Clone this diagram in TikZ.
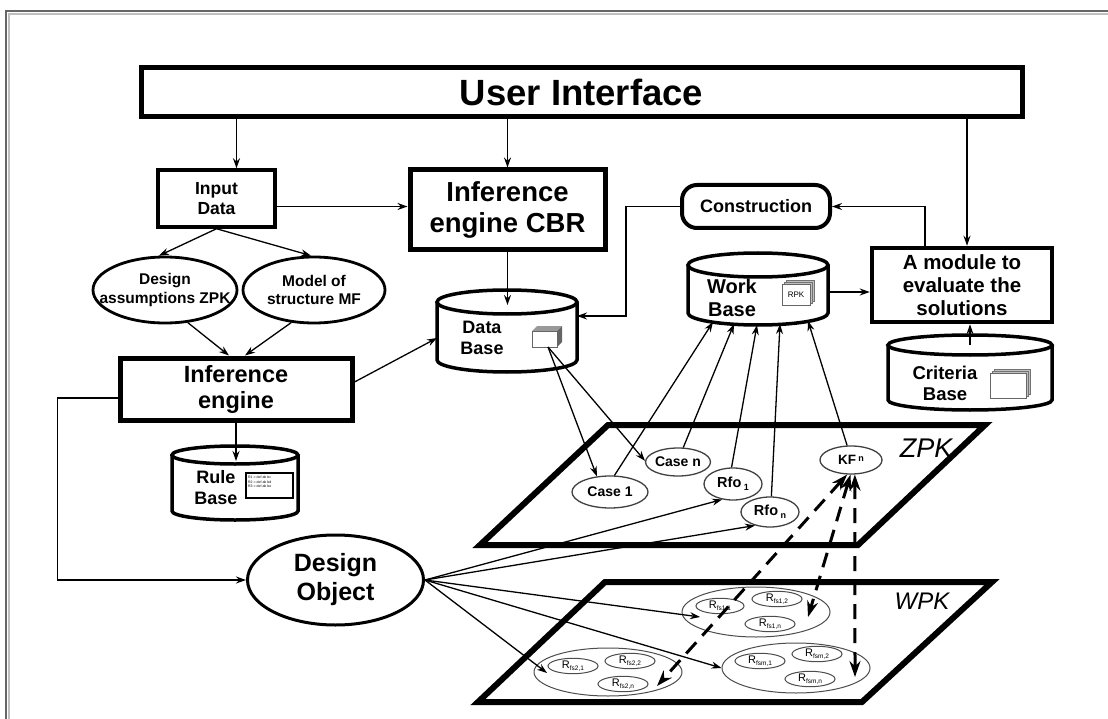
\documentclass[tikz,border=0pt]{standalone}
\usepackage{fontspec}
\setmainfont{Liberation Sans}
\usetikzlibrary{arrows.meta,shapes.geometric,calc}

% database drum: name, left x, right x, top-ellipse y, bottom-ellipse y, y radius
\newcommand\dbdrum[6]{%
  \coordinate (#1-top) at ({(#2+#3)/2},#4);
  \draw[drum] (#2,#4) -- (#2,#5)
    arc[start angle=180,end angle=0,x radius={(#3-#2)/2},y radius=#6] -- (#3,#4);
  \draw[drum] (#1-top) ellipse[x radius={(#3-#2)/2},y radius=#6];
}
% small relation label R with a lowered index
\newcommand\rsub[1]{{\mdseries\fontsize{11}{11}\selectfont R\raisebox{-2.5pt}{\fontsize{6.5}{6.5}\selectfont #1}}}

\begin{document}
\begin{tikzpicture}[x=1pt,y=-1pt,
  every node/.style={font=\bfseries, align=center, inner sep=0pt},
  thickbox/.style={draw, line width=5pt},
  arr/.style={line width=1.3pt, -{Stealth[length=10pt,width=7pt]}},
  drum/.style={line width=3.5pt},
  oval/.style={ellipse, draw, line width=2.8pt},
  item/.style={ellipse, draw=black!75, line width=1.3pt},
  subrel/.style={ellipse, draw=black!70, line width=1pt},
  plane/.style={line width=6pt, line join=miter},
  dasharr/.style={line width=3pt, dash pattern=on 15pt off 9pt,
    {Stealth[length=16pt,width=11pt]}-{Stealth[length=16pt,width=11pt]}},
]
\useasboundingbox (0,0) rectangle (1108,719);

% page edge
\draw[black!25, line width=1.5pt] (9,719) -- (9,14) -- (1108,14);
\draw[black!60, line width=2.2pt] (6,719) -- (6,11) -- (1108,11);

% ---- top row
\node[thickbox, minimum width=881, minimum height=49,
      font=\bfseries\fontsize{36.5}{40}\selectfont] (ui) at (581.5,92.5) {User Interface};
\node[draw, line width=3.5pt, minimum width=117, minimum height=57,
      font=\bfseries\fontsize{17.5}{20}\selectfont] (in) at (216.5,198.5) {Input\\Data};
\node[thickbox, minimum width=195, minimum height=80,
      font=\bfseries\fontsize{27.5}{31}\selectfont] (cbr) at (507.5,210) {Inference\\engine CBR};
\node[draw, rounded corners=15pt, line width=4pt, minimum width=148, minimum height=43,
      font=\bfseries\fontsize{18}{20}\selectfont] (con) at (756,206.5) {Construction};
\node[draw, line width=4.5pt, minimum width=180, minimum height=74,
      font=\bfseries\fontsize{20.5}{23}\selectfont] (mod) at (962,285) {A module to\\evaluate the\\solutions};

% ---- knowledge sources
\node[oval, minimum width=144, minimum height=66] (za) at (165,290) {};
\node[font=\bfseries\fontsize{15.5}{18.5}\selectfont] (zat) at (za) {Design\\assumptions ZPK};
\node[oval, minimum width=142, minimum height=66] (mf) at (314,290) {};
\node[font=\bfseries\fontsize{15.5}{18.5}\selectfont] (mft) at (mf) {Model of\\structure MF};

\node[thickbox, minimum width=232, minimum height=62,
      font=\bfseries\fontsize{23.5}{26}\selectfont] (ie) at (236,389) {Inference\\engine};

\node[ellipse, draw, line width=3pt, minimum width=176, minimum height=90] (do) at (335.5,580) {};
\node[font=\bfseries\fontsize{25}{29}\selectfont] (dot) at (do) {Design\\Object};

% ---- databases
\dbdrum{db}{437}{577}{302}{360}{12}
\node[font=\bfseries\fontsize{18}{21}\selectfont] (dbt) at (482,338) {Data\\Base};
\fill[black!40] (532,331) -- (537,326) -- (562,326) -- (557,331) -- cycle;
\fill[black!60] (557,331) -- (562,326) -- (562,342) -- (557,347) -- cycle;
\draw[black!60, line width=0.8pt, fill=white] (532,331) rectangle (557,347);
\coordinate (dbicon) at (548,347);

\dbdrum{wb}{688}{828}{265}{313}{12}
\node[font=\bfseries\fontsize{20}{23}\selectfont] (wbt) at (732,298) {Work\\Base};
\foreach \d in {4,2}
  \draw[black!55, fill=black!25, line width=0.6pt] (782+\d,284-\d) rectangle (810+\d,305-\d);
\draw[black!60, line width=0.7pt, fill=white] (782,284) rectangle (810,305);
\node[font=\mdseries\fontsize{8}{8}\selectfont] (rpk) at (796,294.5) {RPK};

\dbdrum{cb}{888}{1052}{345}{400}{10}
\node[font=\bfseries\fontsize{18.5}{21}\selectfont] (cbt) at (945,383) {Criteria\\Base};
\foreach \d in {4,2}
  \draw[black!55, fill=black!25, line width=0.6pt] (990+\d,373-\d) rectangle (1026+\d,398-\d);
\draw[black!60, line width=0.8pt, fill=white] (990,373) rectangle (1026,398);

\dbdrum{rb}{172}{298}{455}{511}{9}
\node[font=\bfseries\fontsize{18}{21}\selectfont] (rbt) at (216,488) {Rule\\Base};
\draw[line width=1.2pt, fill=white] (246,473) rectangle (293,498);
\node[font=\mdseries\fontsize{3.5}{4.5}\selectfont, align=left, anchor=north west] (rbi) at (248,476)
  {R1 = def ab bc\\R2 = def ab bd\\R3 = def ab be};

% ---- knowledge planes
\draw[plane] (608,425) -- (985,425) -- (858,545) -- (480,545) -- cycle;
\draw[plane] (605,582) -- (992,582) -- (862,702) -- (478,702) -- cycle;
\node[font=\itshape\mdseries\fontsize{27}{28}\selectfont] (zpk) at (926,448) {ZPK};
\node[font=\itshape\mdseries\fontsize{24}{26}\selectfont] (wpk) at (922,601) {WPK};

% ZPK contents
\node[item, minimum width=76, minimum height=32, font=\bfseries\fontsize{14}{16}\selectfont] (case1) at (610,492) {Case 1};
\node[item, minimum width=62, minimum height=28, font=\bfseries\fontsize{14}{16}\selectfont] (casen) at (678,462) {Case n};
\node[item, minimum width=58, minimum height=32, font=\bfseries\fontsize{14.5}{16}\selectfont] (rfo1) at (733,484) {Rfo\,\raisebox{-3pt}{\fontsize{9}{9}\selectfont 1}};
\node[item, minimum width=58, minimum height=30, font=\bfseries\fontsize{14.5}{16}\selectfont] (rfon) at (770,512) {Rfo\,\raisebox{-3pt}{\fontsize{9}{9}\selectfont n}};
\node[item, minimum width=62, minimum height=28, font=\bfseries\fontsize{13.5}{16}\selectfont] (kfn) at (851,460) {KF\,\raisebox{3pt}{\fontsize{9}{9}\selectfont n}};

% WPK contents
\node[subrel, minimum width=148, minimum height=50] (fs1) at (756,612) {};
\node[subrel, minimum width=48, minimum height=14] (fs11) at (720,606) {\rsub{fs1,1}};
\node[subrel, minimum width=50, minimum height=14] (fs12) at (777,599) {\rsub{fs1,2}};
\node[subrel, minimum width=50, minimum height=14] (fs1n) at (770,624) {\rsub{fs1,n}};

\node[subrel, minimum width=148, minimum height=50] (fsm) at (796,668) {};
\node[subrel, minimum width=50, minimum height=14] (fsm1) at (760,661) {\rsub{fsm,1}};
\node[subrel, minimum width=50, minimum height=14] (fsm2) at (817,654) {\rsub{fsm,2}};
\node[subrel, minimum width=50, minimum height=14] (fsmn) at (810,679) {\rsub{fsm,n}};

\node[subrel, minimum width=148, minimum height=48] (fs2) at (608,672) {};
\node[subrel, minimum width=50, minimum height=14] (fs21) at (573,666) {\rsub{fs2,1}};
\node[subrel, minimum width=50, minimum height=14] (fs22) at (630,661) {\rsub{fs2,2}};
\node[subrel, minimum width=50, minimum height=14] (fs2n) at (623,684) {\rsub{fs2,n}};

% ---- connectors, top part
\draw[arr] ([xshift=20pt]in.north |- ui.south) -- ([xshift=20pt]in.north);
\draw[arr] (cbr.north |- ui.south) -- (cbr.north);
\draw[arr] ([xshift=5pt]mod.north |- ui.south) -- ([xshift=5pt]mod.north);
\draw[arr] ([yshift=-8pt]in.east) -- ([yshift=-8pt]in.east -| cbr.west);
\draw[arr] ([xshift=-37pt]mod.north) |- (con.east);
\coordinate (db-r) at (577,316);
\draw[arr] (con.west) -- ++(-54,0) |- (db-r);
\draw[arr] (cbr.south) -- ([yshift=-3pt]cbr.south |- db-top);
\coordinate (wb-r) at (828,292);
\draw[arr] (wb-r) -- (wb-r -| mod.west);
\draw[arr] (cb-top) -- (cb-top |- mod.south);

\draw[arr] (in.south) -- (za.100);
\draw[arr] (in.south) -- (mf.95);
\draw[arr] (za.-55) -- ([xshift=-7pt]ie.north);
\draw[arr] (mf.-125) -- ([xshift=9pt]ie.north);
\draw[arr] (ie.south) -- ([yshift=-6pt]ie.south |- rb-top);
\coordinate (db-l) at (437,338);
\draw[arr] ([yshift=7pt]ie.east) -- (db-l);
\draw[arr] ([yshift=-9pt]ie.west) -- ++(-60,0) |- (do.west);

% data base cases into ZPK
\draw[arr] (dbicon) -- (case1.130);
\draw[arr] (dbicon) -- (casen.178);

% ZPK items up to the work base
\coordinate (wb1) at (713,322);
\coordinate (wb2) at (734,324);
\coordinate (wb3) at (757,325);
\coordinate (wb4) at (780,324);
\coordinate (wb5) at (808,321);
\draw[arr] (case1.75) -- (wb1);
\draw[arr] (casen.70) -- (wb2);
\draw[arr] (rfo1.95) -- (wb3);
\draw[arr] (rfon.85) -- (wb4);
\draw[arr] (kfn.105) -- (wb5);

% design object into both planes
\coordinate (t-fs1) at (700,617);
\coordinate (t-fs2) at (547,673);
\draw[arr] (do.east) -- (rfo1.235);
\draw[arr] (do.east) -- (rfon.222);
\draw[arr] (do.east) -- (t-fs1);
\draw[arr] (do.east) -- (fsm.west);
\draw[arr] (do.east) -- (t-fs2);

% knowledge fragments linked to the relation sets
\coordinate (d-fs2) at (657,686);
\coordinate (d-fs1) at (808,617);
\coordinate (d-fsm) at (855,677);
\draw[dasharr] (kfn.255) -- (d-fs2);
\draw[dasharr] (kfn.268) -- (d-fs1);
\draw[dasharr] (kfn.285) -- (d-fsm);
\end{tikzpicture}
\end{document}
